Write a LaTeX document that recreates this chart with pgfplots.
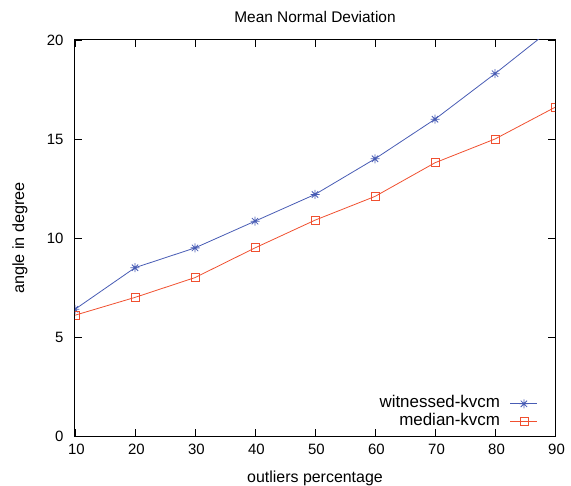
\documentclass[border=0pt]{standalone}
\usepackage{fontspec}
\setmainfont{Liberation Sans}
\usepackage{pgfplots}
\pgfplotsset{compat=1.18}
\definecolor{cblue}{RGB}{72,92,180}
\definecolor{cred}{RGB}{240,80,48}
\pgfdeclareplotmark{gpstar}{%
  \pgfpathmoveto{\pgfqpoint{-\pgfplotmarksize}{0pt}}\pgfpathlineto{\pgfqpoint{\pgfplotmarksize}{0pt}}%
  \pgfpathmoveto{\pgfqpoint{0pt}{-\pgfplotmarksize}}\pgfpathlineto{\pgfqpoint{0pt}{\pgfplotmarksize}}%
  \pgfpathmoveto{\pgfqpoint{-0.707\pgfplotmarksize}{-0.707\pgfplotmarksize}}\pgfpathlineto{\pgfqpoint{0.707\pgfplotmarksize}{0.707\pgfplotmarksize}}%
  \pgfpathmoveto{\pgfqpoint{-0.707\pgfplotmarksize}{0.707\pgfplotmarksize}}\pgfpathlineto{\pgfqpoint{0.707\pgfplotmarksize}{-0.707\pgfplotmarksize}}%
  \pgfusepathqstroke}
\begin{document}
\begin{tikzpicture}
\begin{axis}[
  scale only axis,
  width=480bp, height=396bp,
  xmin=10, xmax=90, ymin=0, ymax=20,
  xtick={10,20,...,90}, ytick={0,5,...,20},
  tick align=inside,
  major tick length=7bp,
  axis line style={line width=1bp},
  every tick/.style={black, line width=0.8bp},
  /pgf/number format/assume math mode=true,
  tick label style={font=\fontsize{15}{18}\selectfont},
  xticklabel style={yshift=-5bp, xshift=1.5bp},
  yticklabel style={xshift=-8bp},
  title={Mean Normal Deviation},
  every axis title/.style={at={(axis description cs:0.5,1)}, yshift=23bp, anchor=center, font=\fontsize{15.5}{18}\selectfont},
  xlabel={outliers percentage},
  ylabel={angle in degree},
  every axis x label/.style={at={(axis description cs:0.5,0)}, yshift=-42bp, anchor=center, font=\fontsize{16}{19}\selectfont},
  every axis y label/.style={at={(axis description cs:0,0.5)}, xshift=-55bp, anchor=center, rotate=90, font=\fontsize{16.3}{19}\selectfont},
  legend cell align=right,
  legend plot pos=right,
  legend style={draw=none, fill=none, at={(rel axis cs:1,0)}, anchor=south east, xshift=-17bp, yshift=5bp,
    font=\fontsize{17}{20}\selectfont, row sep=0bp, column sep=9bp, inner sep=0bp,
    nodes={text height=12bp, text depth=4bp, inner sep=1bp}},
  legend image code/.code={\draw[mark repeat=2, mark phase=2] plot coordinates {(0bp,0bp) (13.5bp,0bp) (27bp,0bp)};},
]
\coordinate (o) at (rel axis cs:0,0);
\addplot[cblue, line width=0.8bp, mark=gpstar, mark size=4.5bp, clip mode=individual] coordinates {
(10,6.4) (20,8.5) (30,9.5) (40,10.85) (50,12.2) (60,14.0) (70,16.0) (80,18.3) (90,20.7)};
\addlegendentry{witnessed-kvcm}
\addplot[cred, line width=0.8bp, mark=square, mark size=4bp, clip mode=individual] coordinates {
(10,6.1) (20,7.0) (30,8.0) (40,9.5) (50,10.9) (60,12.1) (70,13.8) (80,15.0) (90,16.6)};
\addlegendentry{median-kvcm}
\end{axis}
\pgfresetboundingbox
\path (o) ++(-75bp,-50bp) rectangle ++(571bp,486bp);
\end{tikzpicture}
\end{document}
